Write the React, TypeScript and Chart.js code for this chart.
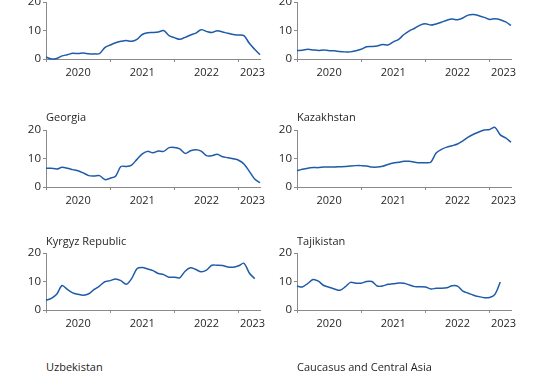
import React, { useEffect, useRef } from "react";
import { Chart, registerables } from "chart.js";

Chart.register(...registerables);

// Monthly observations, Jan 2020 onward
const MONTHS = [
  "2020-01", "2020-02", "2020-03", "2020-04", "2020-05", "2020-06", "2020-07", "2020-08", "2020-09", "2020-10", "2020-11", "2020-12",
  "2021-01", "2021-02", "2021-03", "2021-04", "2021-05", "2021-06", "2021-07", "2021-08", "2021-09", "2021-10", "2021-11", "2021-12",
  "2022-01", "2022-02", "2022-03", "2022-04", "2022-05", "2022-06", "2022-07", "2022-08", "2022-09", "2022-10", "2022-11", "2022-12",
  "2023-01", "2023-02", "2023-03", "2023-04", "2023-05",
];

const ARMENIA = [
  0.7, 0.0, 0.2, 1.1, 1.5, 2.0, 1.9, 2.1, 1.8, 1.8, 1.9, 4.0,
  4.9, 5.7, 6.2, 6.5, 6.2, 6.9, 8.6, 9.2, 9.3, 9.5, 10.0, 8.2,
  7.5, 6.9, 7.6, 8.4, 9.1, 10.3, 9.7, 9.3, 9.9, 9.5, 9.0, 8.6,
  8.4, 8.2, 5.5, 3.4, 1.5,
];
const AZERBAIJAN = [
  3.0, 3.1, 3.4, 3.2, 3.0, 3.2, 2.9, 2.9, 2.6, 2.5, 2.5, 2.9,
  3.4, 4.3, 4.4, 4.6, 5.1, 4.9, 6.0, 6.9, 8.6, 9.9, 10.8, 11.9,
  12.4, 11.9, 12.3, 12.9, 13.6, 14.0, 13.8, 14.4, 15.4, 15.6, 15.2, 14.6,
  13.9, 14.1, 13.8, 13.0, 11.8,
];
const GEORGIA = [
  6.6, 6.6, 6.3, 6.9, 6.6, 6.1, 5.7, 4.9, 4.0, 3.9, 4.0, 2.6,
  3.1, 3.8, 7.2, 7.2, 7.7, 9.7, 11.6, 12.5, 12.0, 12.6, 12.5, 13.8,
  13.9, 13.4, 11.8, 12.7, 13.1, 12.6, 11.0, 11.0, 11.5, 10.6, 10.3, 9.9,
  9.4, 8.1, 5.5, 2.8, 1.5,
];
const KAZAKHSTAN = [
  5.7, 6.2, 6.6, 6.8, 6.8, 7.0, 7.0, 7.0, 7.1, 7.2, 7.4, 7.5,
  7.5, 7.4, 7.0, 7.0, 7.3, 7.9, 8.4, 8.7, 9.0, 9.0, 8.7, 8.5,
  8.5, 8.7, 11.9, 13.2, 14.0, 14.5, 15.1, 16.2, 17.5, 18.5, 19.3, 20.0,
  20.2, 20.9, 18.3, 17.2, 15.7,
];
const KYRGYZ = [
  3.4, 4.1, 5.5, 8.6, 7.2, 6.0, 5.5, 5.2, 5.7, 7.2, 8.4, 9.9,
  10.3, 10.9, 10.3, 9.0, 11.0, 14.5, 14.9, 14.4, 13.8, 12.8, 12.4, 11.5,
  11.5, 11.3, 13.6, 14.8, 14.2, 13.4, 14.0, 15.7, 15.7, 15.6, 15.1, 15.0,
  15.5, 16.4, 13.0, 11.0,
];
const TAJIKISTAN = [
  8.4, 8.1, 9.3, 10.7, 10.1, 8.6, 8.0, 7.4, 6.9, 8.1, 9.7, 9.4,
  9.4, 10.0, 10.0, 8.4, 8.4, 9.0, 9.2, 9.5, 9.4, 8.8, 8.2, 8.2,
  8.1, 7.4, 7.6, 7.6, 7.8, 8.5, 8.4, 6.6, 5.9, 5.2, 4.7, 4.3,
  4.4, 5.5, 9.8,
];

const YEAR_LABELS = ["2020", "2021", "2022", "2023"];
const YEAR_LABEL_AT = [6, 18, 30, 38.6];
const YEAR_BOUNDARY_AT = [0, 12, 24, 36];
const Y_TICKS = [0, 5, 10, 15, 20];
const Y_LABELED = [0, 10, 20];

const FONT = "'Open Sans', 'Liberation Sans', Arial, sans-serif";
const TEXT = "#231f20";
const AXIS = "#8a8a8a";
const LINE = "#1f5ba8";

// layout constants (px)
const Y_AXIS_W = 34;
const PAD_T = 10;
const PAD_R = 18;
const X_AXIS_H = 24;
const PLOT_W = 214;
const PLOT_H = 57;

type PanelSpec = { data: number[]; plotLeft: number; plotTop: number };

const PANELS: PanelSpec[] = [
  { data: ARMENIA, plotLeft: 46, plotTop: 2 },
  { data: AZERBAIJAN, plotLeft: 297, plotTop: 2 },
  { data: GEORGIA, plotLeft: 46, plotTop: 130 },
  { data: KAZAKHSTAN, plotLeft: 297, plotTop: 130 },
  { data: KYRGYZ, plotLeft: 46, plotTop: 253 },
  { data: TAJIKISTAN, plotLeft: 297, plotTop: 253 },
];

const TITLES = [
  { text: "Georgia", left: 46, centerY: 117 },
  { text: "Kazakhstan", left: 297, centerY: 117 },
  { text: "Kyrgyz Republic", left: 46, centerY: 241 },
  { text: "Tajikistan", left: 297, centerY: 241 },
  { text: "Uzbekistan", left: 46, centerY: 367 },
  { text: "Caucasus and Central Asia", left: 297, centerY: 367 },
];

function Panel({ spec }: { spec: PanelSpec }) {
  const ref = useRef<HTMLCanvasElement | null>(null);
  const W = Y_AXIS_W + PLOT_W + PAD_R;
  const H = PAD_T + PLOT_H + X_AXIS_H;
  useEffect(() => {
    if (!ref.current) return;
    const chart = new Chart(ref.current, {
      type: "line",
      data: {
        labels: MONTHS,
        datasets: [
          {
            data: spec.data.map((v, i) => ({ x: i, y: v })),
            borderColor: LINE,
            borderWidth: 1.5,
            pointRadius: 0,
            tension: 0.3,
            fill: false,
            clip: false as any,
          },
        ],
      },
      options: {
        animation: false,
        responsive: false,
        devicePixelRatio: 1,
        layout: { padding: { top: PAD_T, right: PAD_R, left: 0, bottom: 0 } },
        plugins: {
          legend: { display: false },
          tooltip: { enabled: false },
          title: { display: false },
        },
        scales: {
          x: {
            type: "linear",
            min: 0,
            max: 40,
            afterBuildTicks: (s: any) => {
              s.ticks = [...YEAR_BOUNDARY_AT, ...YEAR_LABEL_AT]
                .sort((a, b) => a - b)
                .map((v) => ({ value: v }));
            },
            afterFit: (s: any) => {
              s.height = X_AXIS_H;
            },
            grid: {
              drawOnChartArea: false,
              drawTicks: true,
              tickLength: 3,
              lineWidth: 1,
              tickColor: (ctx: any) =>
                ctx.tick && YEAR_BOUNDARY_AT.includes(ctx.tick.value) ? AXIS : "rgba(0,0,0,0)",
              color: (ctx: any) =>
                ctx.tick && YEAR_BOUNDARY_AT.includes(ctx.tick.value) ? AXIS : "rgba(0,0,0,0)",
            },
            border: { display: true, color: AXIS, width: 1 },
            ticks: {
              autoSkip: false,
              maxRotation: 0,
              minRotation: 0,
              padding: 4,
              color: TEXT,
              font: { family: FONT, size: 11 },
              callback: (v: any) => {
                const k = YEAR_LABEL_AT.indexOf(Number(v));
                return k >= 0 ? YEAR_LABELS[k] : "";
              },
            },
          },
          y: {
            type: "linear",
            min: 0,
            max: 20,
            afterBuildTicks: (s: any) => {
              s.ticks = Y_TICKS.map((v) => ({ value: v }));
            },
            afterFit: (s: any) => {
              s.width = Y_AXIS_W;
            },
            grid: {
              drawOnChartArea: false,
              drawTicks: true,
              tickLength: 3,
              lineWidth: 1,
              tickColor: AXIS,
              color: AXIS,
            },
            border: { display: true, color: AXIS, width: 1 },
            ticks: {
              padding: 2,
              color: TEXT,
              font: { family: FONT, size: 11.5 },
              callback: (v: any) => (Y_LABELED.includes(Number(v)) ? String(v) : ""),
            },
          },
        },
      } as any,
    });
    return () => chart.destroy();
  }, [spec]);
  return (
    <canvas
      ref={ref}
      width={W}
      height={H}
      style={{
        position: "absolute",
        left: spec.plotLeft - Y_AXIS_W,
        top: spec.plotTop - PAD_T,
        width: W,
        height: H,
      }}
    />
  );
}

export default function App() {
  return (
    <div
      style={{
        position: "fixed",
        left: 0,
        top: 0,
        width: 539,
        height: 375,
        overflow: "hidden",
        background: "#ffffff",
      }}
    >
      {PANELS.map((p, i) => (
        <Panel key={i} spec={p} />
      ))}
      {TITLES.map((t, i) => (
        <div
          key={"t" + i}
          style={{
            position: "absolute",
            left: t.left,
            top: t.centerY - 8,
            height: 16,
            lineHeight: "16px",
            fontFamily: FONT,
            fontSize: 11,
            color: TEXT,
            whiteSpace: "nowrap",
          }}
        >
          {t.text}
        </div>
      ))}
    </div>
  );
}
